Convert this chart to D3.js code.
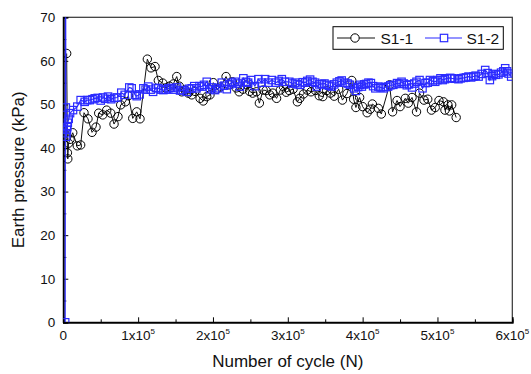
<!DOCTYPE html>
<html><head><meta charset="utf-8">
<script src="https://cdn.jsdelivr.net/npm/d3@7"></script>
<style>body{margin:0;background:#fff}svg{display:block}text{font-family:"Liberation Sans",Arial,sans-serif;fill:#111}</style>
</head><body>
<svg id="c" width="531" height="374"></svg>
<script>
// Cycles in thousands (x 10^3) and earth pressure in kPa
const s11Cycles = [4.5,5.5,6,7,9,12.6,18.7,23.2,27.7,33,38.4,43.7,47.3,52.7,58,63.4,67.8,73.1,76.7,82.9,87,92.8,98.1,102.5,112.3,117.2,122.6,127,132.9,137,142,147,151.6,155,158.3,162.7,167,171.7,176,182.8,187,191.7,196,200.5,205,210,217.5,222,226,231,235,240,245,249,253,258,262,267,271,276,280,285,290,294,298,302,307,312.8,316,321,326,331,337,342,346.8,352,357,362,368,373,379,385.5,388,391,396,400,406,410,413,421,425,436,440,446,450,457,461,466,472,476,482,487,492,497,502,508,510,514,516,519,525];
const s11Pressure = [61.7,38.9,37.5,41.1,42.0,43.5,40.5,40.7,48.1,46.7,43.6,44.8,48.0,47.6,48.7,48.0,45.5,47.2,49.9,50.6,52.0,46.8,48.3,46.7,60.4,58.4,58.7,55.5,54.9,53.8,54.2,54.7,56.4,54.2,52.9,53.3,52.6,52.2,53.0,51.4,50.8,51.8,52.2,55.0,53.5,54.0,56.4,54.5,55.2,53.8,52.9,53.5,54.5,53.0,52.6,52.9,50.3,53.3,53.2,52.2,52.6,51.4,53.3,54.1,52.8,53.2,53.5,50.6,51.4,52.4,53.3,52.9,53.2,52.0,51.8,53.2,52.6,51.9,53.5,51.0,52.5,55.5,51.2,49.3,51.6,49.5,48.1,48.9,50.1,49.1,47.8,54.5,48.3,50.9,49.5,51.4,50.3,51.6,48.3,52.6,51.0,51.2,48.7,49.3,50.9,50.6,48.7,49.9,48.5,49.9,47.0];

const s12Cycles = [2.5,3,3.4,3.8,4.2,4.8,5.3,6,7.2,9,13,18.7,23.2,28.6,32,35.3,39,42,46,50,53,56,59.8,64,68,72,77.5,82,88.2,91.4,95.9,98.1,102,107,110,113.6,117,120,124,127,131,133.7,137,140.4,144,148,152,156,160,165,168,171.7,175,178,182,185,188,191.7,196,199,202.8,207,211.8,215,218.5,222,225,229.5,233,236,240.6,244,247,251,256,260.7,265,269.7,274,278.6,284,288,292,296,302,306,309.7,313,316.4,320,323,326,329.8,333,336.5,338.8,342,345.5,349,352,355,358.8,362,365.5,369,372,376.6,380,383,388.6,391,394,396.7,399,402,404.7,407.8,411,414,417,421,424,428,431,434,437,441,446,449,452,455,459,462,466,469,472,476,480,484,487,490,494,497,500,504,507,510,512.6,517,519,523,528,531,535,538,541.5,545,548,551,555,559,563.8,567,570,573,575,578,581.5,585,588,590.5,593,595,598.5];
const s12Pressure = [0,95,49.3,42.6,43.4,44.2,44.8,45.8,46.7,48.0,48.7,49.5,51.0,50.6,51.0,51.0,51.2,51.4,51.5,50.9,51.6,51.3,51.8,51.2,51.5,51.6,52.7,52.2,53.9,53.7,52.2,51.9,52.3,53.7,53.4,54.1,53.4,52.9,53.8,53.7,53.4,53.3,53.4,53.7,53.8,53.4,53.9,53.2,53.3,52.9,53.6,53.7,54.2,53.7,54.2,54.1,54.5,55.2,53.5,53.9,53.3,53.7,55.0,54.3,53.5,54.6,55.0,55.2,54.8,54.1,56.0,55.2,55.0,55.6,54.2,55.8,55.0,55.8,55.0,55.6,55.0,55.4,55.8,55.2,55.2,54.8,55.0,54.6,54.5,55.1,55.0,55.4,55.7,55.2,55.0,54.1,54.6,54.7,54.8,54.5,54.3,54.1,54.6,55.0,55.3,55.5,55.0,54.8,54.5,53.7,53.1,54.0,54.5,54.1,54.6,54.7,55.0,54.9,54.2,53.7,54.1,53.9,53.7,54.0,54.1,54.4,54.5,54.9,54.7,55.2,54.8,54.4,54.6,53.9,54.8,55.2,55.6,53.7,54.9,55.0,55.6,55.3,55.2,55.6,56.0,55.6,55.8,56.0,56.1,56.0,55.9,55.8,56.0,56.1,56.2,56.4,56.2,56.4,56.6,56.4,57.0,57.9,57.2,55.6,56.5,57.0,56.8,56.9,57.3,57.6,58.3,57.6,57.1,56.4];

const yTickValues = [0,10,20,30,40,50,60,70];
const xTickValues = [0,100,200,300,400,500,600];
const xTickBase = ["0","1x10","2x10","3x10","4x10","5x10","6x10"];
const xTickExp = ["","5","5","5","5","5","5"];
const seriesNames = ["S1-1","S1-2"];

const svg = d3.select("#c");
const L = 63.3, R = 512.3, T = 17.3, B = 322.3;
const x = d3.scaleLinear().domain([0,600]).range([L,R]);
const y = d3.scaleLinear().domain([0,70]).range([B,T]);
const blue = "#2b2bff";

svg.append("defs").append("clipPath").attr("id","clip")
  .append("rect").attr("x",L).attr("y",T).attr("width",R-L).attr("height",B-T);

// frame
svg.append("rect").attr("x",L).attr("y",T).attr("width",R-L).attr("height",B-T)
  .attr("fill","none").attr("stroke","#333").attr("stroke-width",1.2);

// axes (inward ticks)
const minorX = d3.range(50,600,100);
const minorY = d3.range(5,70,10);
const gx = svg.append("g").attr("transform",`translate(0,${B})`)
  .call(d3.axisBottom(x).tickValues(xTickValues).tickSize(-5).tickFormat(""));
const gxm = svg.append("g").attr("transform",`translate(0,${B})`)
  .call(d3.axisBottom(x).tickValues(minorX).tickSize(-3).tickFormat(""));
const gy = svg.append("g").attr("transform",`translate(${L},0)`)
  .call(d3.axisLeft(y).tickValues(yTickValues).tickSize(-5).tickFormat(""));
const gym = svg.append("g").attr("transform",`translate(${L},0)`)
  .call(d3.axisLeft(y).tickValues(minorY).tickSize(-3).tickFormat(""));
[gx,gxm,gy,gym].forEach(g=>{
  g.select(".domain").attr("stroke","#000").attr("stroke-width",1.4);
  g.selectAll(".tick line").attr("stroke","#000").attr("stroke-width",1);
});

// tick labels
svg.append("g").selectAll("text").data(yTickValues).join("text")
  .attr("x",L-8).attr("y",d=>y(d)+4.8).attr("text-anchor","end")
  .attr("font-size",13.5).text(d=>d);
const xl = svg.append("g").selectAll("text").data(xTickValues).join("text")
  .attr("x",d=>x(d)).attr("y",339.5).attr("text-anchor","middle").attr("font-size",13.5);
xl.append("tspan").text((d,i)=>xTickBase[i]);
xl.append("tspan").attr("dy",-6).attr("font-size",8).text((d,i)=>xTickExp[i]);

// titles
svg.append("text").attr("x",(L+R)/2).attr("y",367).attr("text-anchor","middle")
  .attr("font-size",17).text("Number of cycle (N)");
svg.append("text").attr("transform",`translate(24,${(T+B)/2}) rotate(-90)`)
  .attr("text-anchor","middle").attr("font-size",17).text("Earth pressure (kPa)");

// data
const plot = svg.append("g").attr("clip-path","url(#clip)");
const s11 = s11Cycles.map((c,i)=>[c,s11Pressure[i]]);
const s12 = s12Cycles.map((c,i)=>[c,s12Pressure[i]]);
const line = d3.line().x(d=>x(d[0])).y(d=>y(d[1]));
const cr = 4.2, sq = 7.4;

plot.append("path").datum(s11).attr("d",line).attr("fill","none").attr("stroke","#111").attr("stroke-width",1);
plot.append("g").selectAll("circle").data(s11).join("circle")
  .attr("cx",d=>x(d[0])).attr("cy",d=>y(d[1])).attr("r",cr)
  .attr("fill","none").attr("stroke","#000").attr("stroke-width",1);

plot.append("path").datum(s12).attr("d",line).attr("fill","none").attr("stroke",blue).attr("stroke-width",1.2);
plot.append("g").selectAll("rect").data(s12).join("rect")
  .attr("x",d=>x(d[0])-sq/2).attr("y",d=>y(d[1])-sq/2).attr("width",sq).attr("height",sq)
  .attr("fill","none").attr("stroke",blue).attr("stroke-width",1.2);

// legend
const lg = svg.append("g");
lg.append("rect").attr("x",333).attr("y",26.7).attr("width",170.3).attr("height",22.6)
  .attr("fill","#fff").attr("stroke","#000").attr("stroke-width",1);
const ly = 38;
lg.append("line").attr("x1",337).attr("x2",375).attr("y1",ly).attr("y2",ly).attr("stroke","#111");
lg.append("circle").attr("cx",355).attr("cy",ly).attr("r",cr).attr("fill","#fff").attr("stroke","#000");
lg.append("text").attr("x",380.5).attr("y",ly+5.6).attr("font-size",15.5).text(seriesNames[0]);
lg.append("line").attr("x1",425).attr("x2",462).attr("y1",ly).attr("y2",ly).attr("stroke",blue).attr("stroke-width",1.2);
lg.append("rect").attr("x",444-sq/2).attr("y",ly-sq/2).attr("width",sq).attr("height",sq).attr("fill","#fff").attr("stroke",blue).attr("stroke-width",1.2);
lg.append("text").attr("x",466.5).attr("y",ly+5.6).attr("font-size",15.5).text(seriesNames[1]);
</script>
</body></html>
